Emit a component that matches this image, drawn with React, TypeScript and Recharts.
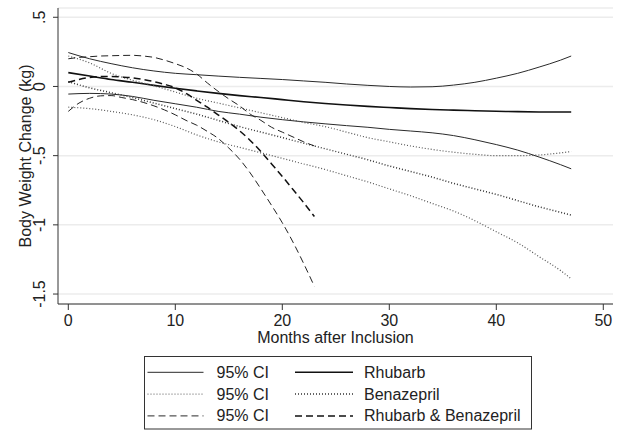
import { LineChart, Line, XAxis, YAxis, CartesianGrid } from 'recharts';

const FONT = '"Liberation Sans", Arial, sans-serif';

// months for the two long series (0..47) and the combination series (0..23)
const monthsLong = [0, 2, 4, 6, 8, 10, 12, 14, 16, 18, 20, 22, 24, 26, 28, 30, 32, 34, 36, 38, 40, 42, 44, 46, 47];
const monthsShort = [0, 1, 2, 3, 4, 5, 6, 7, 8, 9, 10, 11, 12, 13, 14, 15, 16, 17, 18, 19, 20, 21, 22, 23];

const rhubarbUpper = [0.245, 0.2, 0.165, 0.135, 0.112, 0.095, 0.085, 0.075, 0.066, 0.058, 0.05, 0.04, 0.03, 0.018, 0.008, 0.0, -0.004, -0.002, 0.01, 0.03, 0.06, 0.095, 0.14, 0.19, 0.22];
const rhubarbMean = [0.1, 0.075, 0.05, 0.03, 0.008, -0.013, -0.032, -0.05, -0.066, -0.08, -0.095, -0.11, -0.123, -0.134, -0.144, -0.152, -0.16, -0.166, -0.171, -0.175, -0.179, -0.182, -0.184, -0.185, -0.185];
const rhubarbLower = [-0.055, -0.05, -0.055, -0.072, -0.1, -0.125, -0.15, -0.18, -0.2, -0.222, -0.24, -0.256, -0.27, -0.283, -0.295, -0.31, -0.322, -0.335, -0.355, -0.385, -0.42, -0.46, -0.51, -0.565, -0.595];

const benazeprilUpper = [0.22, 0.17, 0.095, 0.045, 0.005, -0.04, -0.085, -0.12, -0.155, -0.19, -0.225, -0.26, -0.29, -0.33, -0.37, -0.4, -0.43, -0.455, -0.475, -0.49, -0.5, -0.5, -0.495, -0.48, -0.47];
const benazeprilMean = [0.035, -0.01, -0.045, -0.08, -0.12, -0.16, -0.2, -0.245, -0.29, -0.33, -0.37, -0.41, -0.45, -0.49, -0.53, -0.575, -0.615, -0.655, -0.7, -0.74, -0.78, -0.825, -0.87, -0.91, -0.93];
const benazeprilLower = [-0.15, -0.16, -0.18, -0.205, -0.24, -0.29, -0.35, -0.4, -0.44, -0.48, -0.52, -0.56, -0.6, -0.645, -0.69, -0.74, -0.79, -0.845, -0.9, -0.97, -1.05, -1.13, -1.23, -1.33, -1.39];

const comboUpper = [0.2, 0.21, 0.215, 0.22, 0.222, 0.224, 0.225, 0.22, 0.21, 0.19, 0.165, 0.135, 0.09, 0.025, -0.035, -0.09, -0.14, -0.2, -0.245, -0.295, -0.33, -0.365, -0.4, -0.43];
const comboMean = [0.03, 0.05, 0.065, 0.072, 0.072, 0.068, 0.062, 0.05, 0.035, 0.015, -0.01, -0.05, -0.1, -0.15, -0.205, -0.26, -0.32, -0.39, -0.47, -0.56, -0.65, -0.745, -0.84, -0.94];
const comboLower = [-0.18, -0.12, -0.085, -0.068, -0.066, -0.08, -0.095, -0.115, -0.14, -0.17, -0.205, -0.245, -0.28, -0.325, -0.375, -0.445, -0.525, -0.625, -0.74, -0.86, -0.985, -1.125, -1.28, -1.445];

const xTicks = [0, 10, 20, 30, 40, 50];
const yTicks = [-1.5, -1, -0.5, 0, 0.5];
const yTickLabels = ['-1.5', '-1', '-.5', '0', '.5'];

const legendRows = [
  { ci: '95% CI', name: 'Rhubarb', dash: undefined },
  { ci: '95% CI', name: 'Benazepril', dash: '1 2' },
  { ci: '95% CI', name: 'Rhubarb & Benazepril', dash: '7 4' },
];

const zip = (months: number[], vals: number[]) => months.map((m, i) => ({ month: m, value: vals[i] }));

const series = [
  { key: 'rU', data: zip(monthsLong, rhubarbUpper), dash: undefined, w: 1, c: '#2a2a2a' },
  { key: 'rM', data: zip(monthsLong, rhubarbMean), dash: undefined, w: 1.6, c: '#111' },
  { key: 'rL', data: zip(monthsLong, rhubarbLower), dash: undefined, w: 1, c: '#2a2a2a' },
  { key: 'bU', data: zip(monthsLong, benazeprilUpper), dash: '1 2', w: 1.2, c: '#555' },
  { key: 'bM', data: zip(monthsLong, benazeprilMean), dash: '1 2', w: 1.5, c: '#333' },
  { key: 'bL', data: zip(monthsLong, benazeprilLower), dash: '1 2', w: 1.2, c: '#555' },
  { key: 'cU', data: zip(monthsShort, comboUpper), dash: '7 4', w: 1, c: '#222' },
  { key: 'cM', data: zip(monthsShort, comboMean), dash: '7 4', w: 1.5, c: '#111' },
  { key: 'cL', data: zip(monthsShort, comboLower), dash: '7 4', w: 1, c: '#222' },
];

function XTick({ x, payload }: any) {
  return (
    <text x={x} y={325.5} textAnchor="middle" fontSize={16} fontFamily={FONT} fill="#222">
      {payload.value}
    </text>
  );
}

function YTick({ y, payload }: any) {
  const label = yTickLabels[yTicks.indexOf(payload.value)];
  return (
    <text x={45} y={y} transform={`rotate(-90 45 ${y})`} textAnchor="middle" fontSize={16} fontFamily={FONT} fill="#222">
      {label}
    </text>
  );
}

export default function App() {
  return (
    <div style={{ position: 'absolute', left: 0, top: 0, width: 624, height: 431, background: '#fff' }}>
      <LineChart width={624} height={431} margin={{ top: 8, right: 11, bottom: 97, left: 8 }}>
        <CartesianGrid vertical={false} stroke="#ececec" strokeWidth={1.5} />
        <XAxis
          type="number"
          dataKey="month"
          domain={[-0.963, 50.907]}
          allowDataOverflow
          ticks={xTicks}
          tick={<XTick />}
          tickSize={6}
          height={30}
          axisLine={{ stroke: '#333' }}
          tickLine={{ stroke: '#333' }}
          label={{
            content: ({ viewBox }: any) => (
              <text x={viewBox.x + viewBox.width / 2} y={343.3} textAnchor="middle" fontSize={16} fontFamily={FONT} fill="#222">
                Months after Inclusion
              </text>
            ),
          }}
        />
        <YAxis
          type="number"
          domain={[-1.572, 0.567]}
          allowDataOverflow
          ticks={yTicks}
          tick={<YTick />}
          tickSize={5}
          width={50}
          axisLine={{ stroke: '#333' }}
          tickLine={{ stroke: '#333' }}
          label={{
            content: () => (
              <text x={31} y={156} transform="rotate(-90 31 156)" textAnchor="middle" fontSize={16} fontFamily={FONT} fill="#222">
                Body Weight Change (kg)
              </text>
            ),
          }}
        />
        {series.map((s) => (
          <Line
            key={s.key}
            data={s.data}
            dataKey="value"
            type="monotone"
            stroke={s.c}
            strokeWidth={s.w}
            strokeDasharray={s.dash}
            dot={false}
            activeDot={false}
            isAnimationActive={false}
          />
        ))}
      </LineChart>
      <svg width={624} height={431} style={{ position: 'absolute', left: 0, top: 0, pointerEvents: 'none' }}>
        <rect x={144.5} y={356.5} width={387} height={72.5} fill="none" stroke="#333" strokeWidth={1} />
        {legendRows.map((r, i) => {
          const ly = 372.3 + i * 21.8;
          return (
            <g key={r.name}>
              <line x1={147.5} x2={203.5} y1={ly} y2={ly} stroke={r.dash === '1 2' ? '#555' : '#2a2a2a'} strokeWidth={1} strokeDasharray={r.dash} />
              <text x={216.5} y={ly + 5.5} fontSize={16} fontFamily={FONT} fill="#222">{r.ci}</text>
              <line x1={295} x2={353} y1={ly} y2={ly} stroke={r.dash === '1 2' ? '#333' : '#111'} strokeWidth={1.5} strokeDasharray={r.dash} />
              <text x={364} y={ly + 5.5} fontSize={16} fontFamily={FONT} fill="#222">{r.name}</text>
            </g>
          );
        })}
      </svg>
    </div>
  );
}
